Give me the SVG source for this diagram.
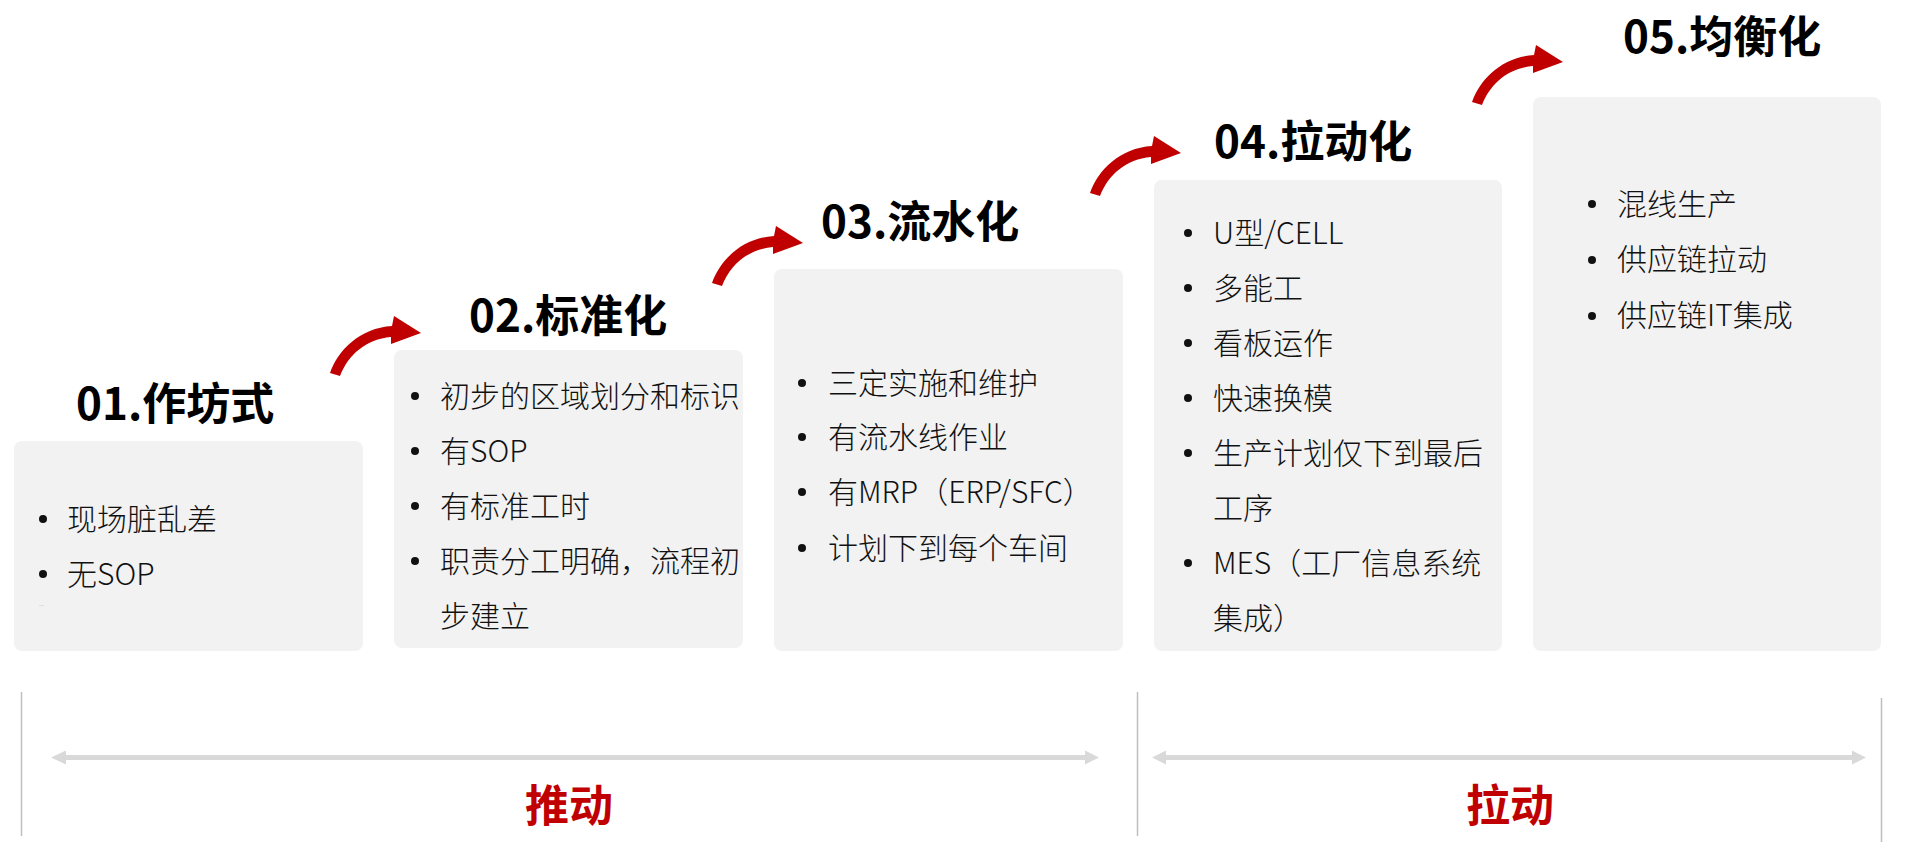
<svg xmlns="http://www.w3.org/2000/svg" xmlns:xlink="http://www.w3.org/1999/xlink" width="1920" height="861" viewBox="0 0 1920 861">
<style>
.box{fill:#f2f2f2;}
.title{font-family:"Noto Sans CJK SC","Noto Sans",sans-serif;font-weight:700;font-size:44px;fill:#000;}
.item{font-family:"Noto Sans CJK SC","Noto Sans",sans-serif;font-weight:300;font-size:30px;fill:#111;}
.dot{fill:#111;}
.lab{font-family:"Noto Sans CJK SC",sans-serif;font-weight:700;font-size:44px;fill:#c00000;text-anchor:middle;}
.vline{stroke:#bfbfbf;stroke-width:1.5;}
.dbl{fill:#d9d9d9;}
.red{fill:#c00000;}
</style>
<defs>
<path id="curl" d="M0,0 C8,-23 30,-45 62,-47 L64,-57 L91,-40 L61,-29 L61,-36 C36,-34 18,-18 10,3 Z"/>
</defs>

<g id="node1">
<rect class="box" x="14" y="441" width="349" height="210" rx="8"/>
<text class="title" x="76" y="420">01.作坊式</text>
<circle class="dot" cx="43" cy="519" r="4"/>
<text class="item" x="67" y="530">现场脏乱差</text>
<circle class="dot" cx="43" cy="574" r="4"/>
<text class="item" x="67" y="585">无SOP</text>
<text x="39" y="606" font-family="Liberation Sans, sans-serif" font-size="6" fill="#999">...</text>
</g>

<g id="node2">
<rect class="box" x="394" y="350" width="349" height="298" rx="8"/>
<text class="title" x="469" y="332">02.标准化</text>
<circle class="dot" cx="415" cy="396" r="4"/>
<text class="item" x="440" y="407">初步的区域划分和标识</text>
<circle class="dot" cx="415" cy="451" r="4"/>
<text class="item" x="440" y="462">有SOP</text>
<circle class="dot" cx="415" cy="506" r="4"/>
<text class="item" x="440" y="517">有标准工时</text>
<circle class="dot" cx="415" cy="561" r="4"/>
<text class="item" x="440" y="572">职责分工明确，流程初</text>
<text class="item" x="440" y="627">步建立</text>
</g>

<g id="node3">
<rect class="box" x="774" y="269" width="349" height="382" rx="8"/>
<text class="title" x="821" y="238">03.流水化</text>
<circle class="dot" cx="802" cy="383" r="4"/>
<text class="item" x="828" y="394">三定实施和维护</text>
<circle class="dot" cx="802" cy="437" r="4"/>
<text class="item" x="828" y="448">有流水线作业</text>
<circle class="dot" cx="802" cy="492" r="4"/>
<text class="item" x="828" y="503">有MRP（ERP/SFC）</text>
<circle class="dot" cx="802" cy="548" r="4"/>
<text class="item" x="828" y="559">计划下到每个车间</text>
</g>

<g id="node4">
<rect class="box" x="1154" y="180" width="348" height="471" rx="8"/>
<text class="title" x="1214" y="158">04.拉动化</text>
<circle class="dot" cx="1188" cy="233" r="4"/>
<text class="item" x="1213" y="244">U型/CELL</text>
<circle class="dot" cx="1188" cy="288" r="4"/>
<text class="item" x="1213" y="299">多能工</text>
<circle class="dot" cx="1188" cy="343" r="4"/>
<text class="item" x="1213" y="354">看板运作</text>
<circle class="dot" cx="1188" cy="398" r="4"/>
<text class="item" x="1213" y="409">快速换模</text>
<circle class="dot" cx="1188" cy="453" r="4"/>
<text class="item" x="1213" y="464">生产计划仅下到最后</text>
<text class="item" x="1213" y="519">工序</text>
<circle class="dot" cx="1188" cy="563" r="4"/>
<text class="item" x="1213" y="574">MES（工厂信息系统</text>
<text class="item" x="1213" y="629">集成）</text>
</g>

<g id="node5">
<rect class="box" x="1533" y="97" width="348" height="554" rx="8"/>
<text class="title" x="1623" y="53">05.均衡化</text>
<circle class="dot" cx="1592" cy="204" r="4"/>
<text class="item" x="1617" y="215">混线生产</text>
<circle class="dot" cx="1592" cy="260" r="4"/>
<text class="item" x="1617" y="270">供应链拉动</text>
<circle class="dot" cx="1592" cy="316" r="4"/>
<text class="item" x="1617" y="326">供应链IT集成</text>
</g>

<g id="connectors">
<use xlink:href="#curl" href="#curl" class="red" transform="translate(330,373)"/>
<use xlink:href="#curl" href="#curl" class="red" transform="translate(712,283)"/>
<use xlink:href="#curl" href="#curl" class="red" transform="translate(1090,193)"/>
<use xlink:href="#curl" href="#curl" class="red" transform="translate(1472,102)"/>
</g>

<g id="phases">
<line class="vline" x1="21.5" y1="692" x2="21.5" y2="836"/>
<line class="vline" x1="1137.5" y1="692" x2="1137.5" y2="836"/>
<line class="vline" x1="1881.5" y1="698" x2="1881.5" y2="842"/>
<path class="dbl" d="M51,757.5 L66,750.5 L66,755 L1085,755 L1085,750.5 L1099,757.5 L1085,764.5 L1085,760 L66,760 L66,764.5 Z"/>
<path class="dbl" d="M1152,757.5 L1166,750.5 L1166,755 L1852,755 L1852,750.5 L1866,757.5 L1852,764.5 L1852,760 L1166,760 L1166,764.5 Z"/>
<text class="lab" x="569" y="822">推动</text>
<text class="lab" x="1510" y="822">拉动</text>
</g>
</svg>
